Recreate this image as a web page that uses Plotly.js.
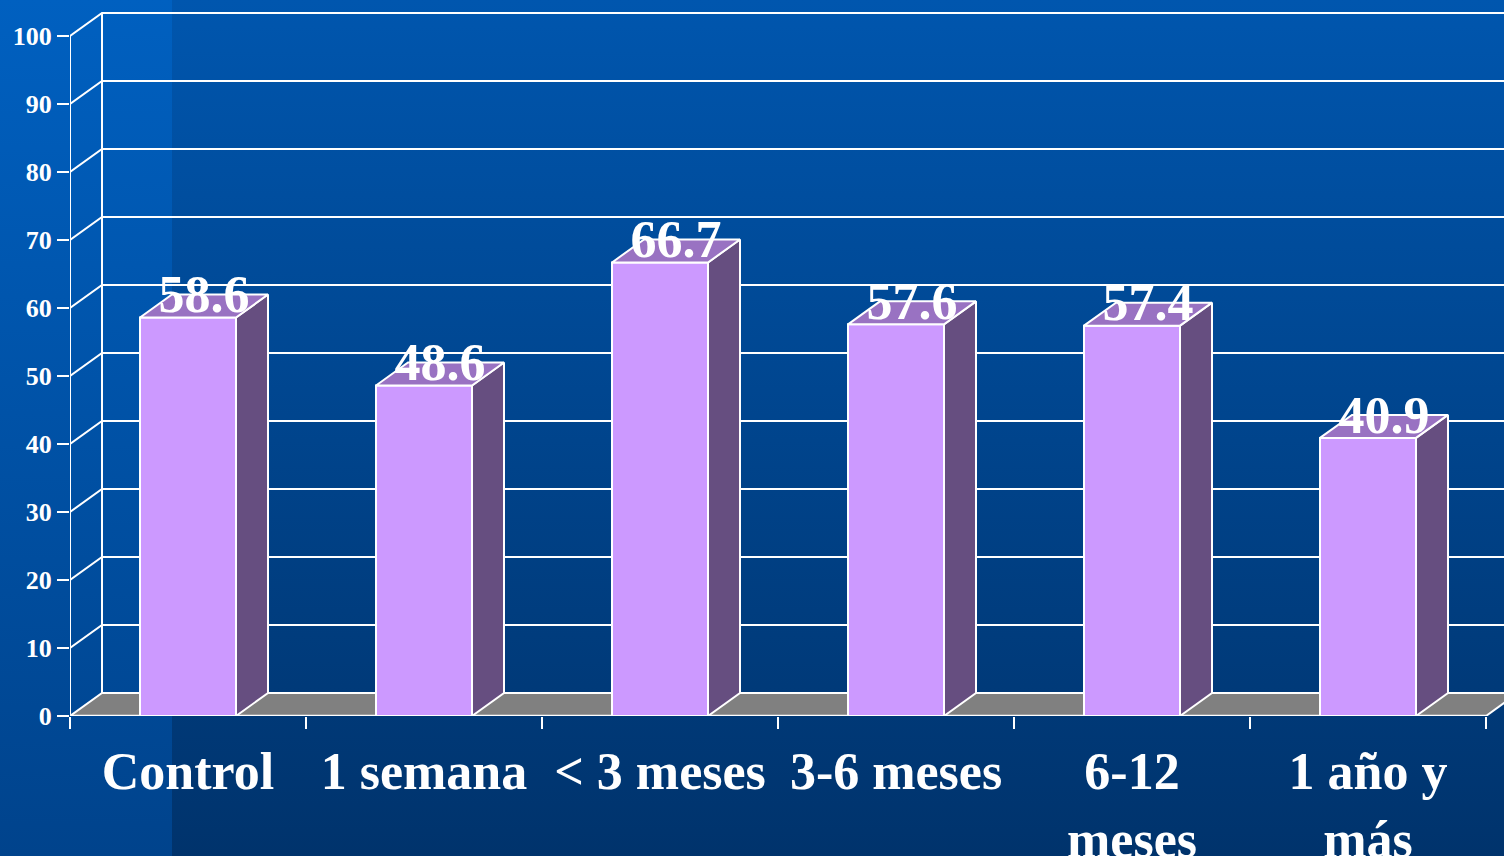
<!DOCTYPE html>
<html>
<head>
<meta charset="utf-8">
<script src="https://cdn.plot.ly/plotly-3.0.1.min.js"></script>
<style>
  html, body { margin: 0; padding: 0; width: 1504px; height: 856px; overflow: hidden; }
  #bg { position: absolute; left: 0; top: 0; width: 1504px; height: 856px;
        background: linear-gradient(to bottom, #0056ae 0%, #00336c 100%); }
  #strip { position: absolute; left: 0; top: 0; width: 172px; height: 856px;
        background: linear-gradient(to bottom, #0060c0 0%, #00438c 100%); }
  #chart { position: absolute; left: 0; top: 0; width: 1504px; height: 856px; }
</style>
</head>
<body>
<div id="bg"></div>
<div id="strip"></div>
<div id="chart"></div>
<script>
// ---- data ----
const categories = ["Control", "1 semana", "< 3 meses", "3-6 meses", "6-12<br>meses", "1 año y<br>más"];
const values = [58.6, 48.6, 66.7, 57.6, 57.4, 40.9];
const yTicks = [0, 10, 20, 30, 40, 50, 60, 70, 80, 90, 100];

// ---- geometry (depth of the pseudo-3D box, in axis units) ----
const DX = 32 / 236;       // horizontal depth
const DY = 23 / 6.8;       // vertical depth
const HW = 0.2034;         // half bar width
const XMIN = -0.5, XMAX = -0.5 + 1434 / 236;
const YMAX = 716 / 6.8;

const font = "Liberation Serif, Times New Roman, serif";
const xs = categories.map((_, i) => i);

// side faces and top faces built from values
const sideX = [], sideY = [], topX = [], topY = [];
values.forEach((v, i) => {
  const r = i + HW, l = i - HW;
  sideX.push(r, r + DX, r + DX, r, r, null);
  sideY.push(0, DY, v + DY, v, 0, null);
  topX.push(l, r, r + DX, l + DX, l, null);
  topY.push(v, v, v + DY, v + DY, v, null);
});

const traces = [
  { type: "bar", x: xs, y: values, width: 2 * HW,
    marker: { color: "#cc99ff", line: { color: "white", width: 2 } },
    hoverinfo: "skip", showlegend: false },
  { type: "scatter", mode: "lines", x: sideX, y: sideY, fill: "toself",
    fillcolor: "#664e80", line: { color: "white", width: 2 }, hoverinfo: "skip", showlegend: false },
  { type: "scatter", mode: "lines", x: topX, y: topY, fill: "toself",
    fillcolor: "#9972c2", line: { color: "white", width: 2 }, hoverinfo: "skip", showlegend: false },
  { type: "scatter", mode: "text", x: xs.map(i => i + DX / 2), y: values.map(v => v + 2.7),
    text: values.map(v => v.toFixed(1)), textposition: "middle center",
    textfont: { family: font, size: 52, color: "white", weight: "bold" },
    cliponaxis: false, hoverinfo: "skip", showlegend: false }
];

// frame: floor, back wall grid, side wall lines, axis lines
const shapes = [];
shapes.push({ type: "path", xref: "x", yref: "y", layer: "below",
  path: `M ${XMIN},0 L ${categories.length - 0.5},0 L ${categories.length - 0.5 + DX},${DY} L ${XMIN + DX},${DY} Z`,
  fillcolor: "#808080", line: { width: 0 } });
yTicks.forEach(t => {
  shapes.push({ type: "path", xref: "x", yref: "y", layer: "below",
    path: `M ${XMIN},${t} L ${XMIN + DX},${t + DY} L ${XMAX + 1},${t + DY}`,
    line: { color: "white", width: 2 } });
});
shapes.push({ type: "line", xref: "x", yref: "y", layer: "below",
  x0: XMIN + DX, x1: XMIN + DX, y0: DY, y1: yTicks[yTicks.length - 1] + DY,
  line: { color: "white", width: 2 } });
shapes.push({ type: "line", xref: "x", yref: "y", layer: "below",
  x0: XMIN, x1: XMIN, y0: 0, y1: yTicks[yTicks.length - 1],
  line: { color: "white", width: 2 } });
shapes.push({ type: "line", xref: "x", yref: "y", layer: "below",
  x0: XMIN, x1: categories.length - 0.5, y0: 0, y1: 0,
  line: { color: "white", width: 2.5 } });
shapes.push({ type: "line", xref: "x", yref: "y", layer: "below",
  x0: categories.length - 0.5, x1: categories.length - 0.5 + DX, y0: 0, y1: DY,
  line: { color: "white", width: 2 } });

const layout = {
  width: 1504, height: 856,
  margin: { l: 70, r: 0, t: 0, b: 140, pad: 0 },
  paper_bgcolor: "rgba(0,0,0,0)", plot_bgcolor: "rgba(0,0,0,0)",
  showlegend: false,
  xaxis: {
    range: [XMIN, XMAX], showgrid: false, zeroline: false, showline: false,
    tickmode: "array", tickvals: xs, ticktext: categories, ticks: "",
    tickfont: { family: font, size: 52, color: "white", weight: "bold" },
    ticklabelstandoff: 20,
    minor: { tickmode: "array", tickvals: categories.map((_, i) => i - 0.5).concat([categories.length - 0.5]),
             ticks: "outside", ticklen: 12, tickwidth: 2, tickcolor: "white", showgrid: false }
  },
  yaxis: {
    range: [0, YMAX], showgrid: false, zeroline: false, showline: false,
    tickmode: "array", tickvals: yTicks, ticks: "outside", ticklen: 12, tickwidth: 2, tickcolor: "white",
    tickfont: { family: font, size: 26, color: "white", weight: "bold" },
    ticklabelstandoff: 0
  },
  shapes: shapes
};

Plotly.newPlot("chart", traces, layout, { staticPlot: true, displayModeBar: false });
</script>
</body>
</html>
